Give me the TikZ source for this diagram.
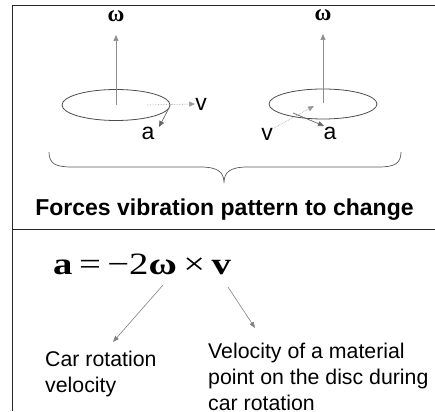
\documentclass[tikz,border=0pt]{standalone}
\usepackage{fontspec}
\setmainfont{Liberation Sans}
\newfontfamily\serifbold{Liberation Serif}
\usetikzlibrary{arrows.meta}
\begin{document}
\begin{tikzpicture}[x=1pt,y=-1pt,
  frame/.style={draw=black!85,line width=0.9pt},
  disc/.style={draw=black!70,line width=0.8pt},
  axis/.style={draw=black!45,line width=0.6pt,-{Triangle[length=6pt,width=5pt]}},
  vel/.style={draw=black!40,line width=0.6pt,densely dotted,-{Triangle[length=6pt,width=5pt]}},
  acc/.style={draw=black!60,line width=0.7pt,-{Triangle[length=6pt,width=5pt]}},
  lbl/.style={inner sep=0pt,font=\fontsize{23}{25}\selectfont},
  om/.style={inner sep=0pt,font=\serifbold\bfseries\fontsize{23}{25}\selectfont},
  ptr/.style={draw=black!50,line width=0.6pt,-{Triangle[length=6pt,width=4.5pt]}},
  body/.style={inner sep=0pt,align=left,anchor=north west,font=\fontsize{21.3}{26}\selectfont}]
\useasboundingbox (0,0) rectangle (435,411);
% frame
\draw[frame] (435,5) -- (12,5) -- (12,411);
\draw[frame] (12,229) -- (435,229);
% left disc
\draw[disc] (116,105) ellipse [x radius=54, y radius=15.5];
\coordinate (cL) at (116,105);
\node[om] (omegaL) at (116,16) {ω};
\draw[axis] (cL) -- (116,35);
\node[lbl] (vL) at (201,104) {v};
\coordinate (vLs) at (147,105);
\draw[vel] (vLs) -- (vL.west);
\node[lbl] (aL) at (148,133) {a};
\coordinate (aLs) at (169,108);
\draw[acc] (aLs) -- (159,127);
% right disc
\draw[disc] (323,104) ellipse [x radius=54, y radius=15];
\coordinate (cR) at (323,103);
\node[om] (omegaR) at (323,15) {ω};
\draw[axis] (cR) -- (323,34);
\node[lbl] (vR) at (267,134) {v};
\coordinate (vRs) at (274,128);
\draw[vel] (vRs) -- (314,106);
\node[lbl] (aR) at (330,133) {a};
\coordinate (aRs) at (293,113);
\draw[acc] (aRs) -- (324,126);
% brace
\draw[draw=black!65,line width=0.7pt] (49,152) .. controls (49,164) and (56,167) .. (72,167) -- (200,167) .. controls (218,167) and (224,172) .. (224,183) .. controls (224,172) and (230,167) .. (248,167) -- (378,167) .. controls (394,167) and (401,164) .. (401,152);
% title
\node[inner sep=0pt,font=\bfseries\fontsize{23}{25}\selectfont] (title) at (224.5,210) {Forces vibration pattern to change};
% formula
\node[inner sep=0pt,anchor=base west,font=\serifbold\fontsize{31}{33}\selectfont] (formula) at (53,274) {\scalebox{1.25}[1]{\textbf{a}\,=\,−2\textbf{ω}\,×\,\textbf{v}}};
\coordinate (fw) at (163,285);
\coordinate (fv) at (228,287);
\node[body] (car) at (45,350.5) {Car rotation\\velocity};
\node[body] (velo) at (208,342.5) {Velocity of a material\\point on the disc during\\car rotation};
\draw[ptr] (fw) -- (113,342);
\draw[ptr] (fv) -- (255,328);
\end{tikzpicture}
\end{document}
